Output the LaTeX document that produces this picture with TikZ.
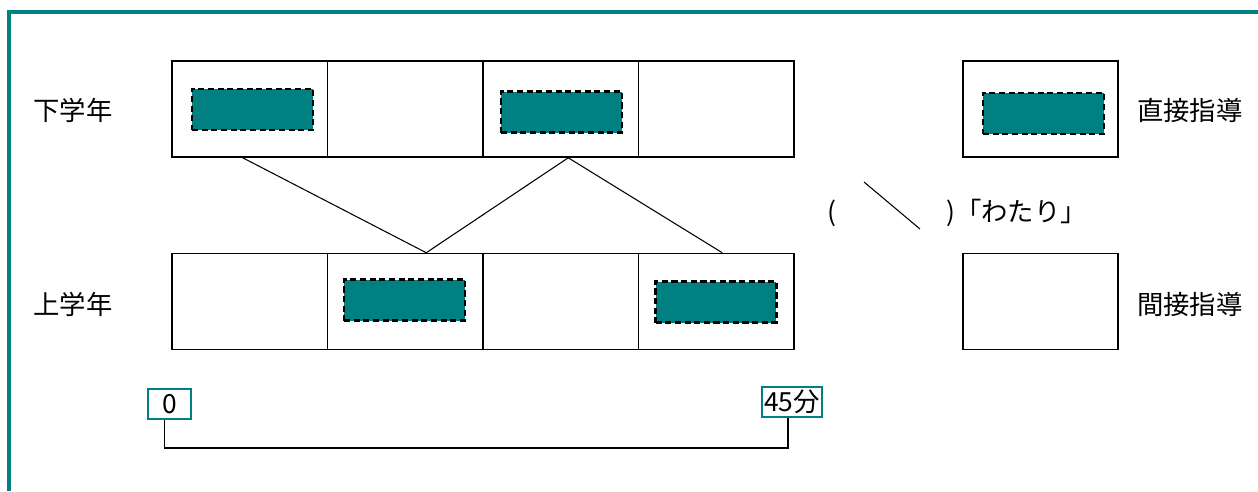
\documentclass[tikz,border=0pt]{standalone}
\usepackage{fontspec}
\setmainfont{Noto Sans CJK JP}
\definecolor{kteal}{RGB}{0,128,128}
\tikzset{
  cell/.style={draw, line width=0.9pt, minimum width=3.11cm, minimum height=1.92cm, inner sep=0pt},
  direct/.style={draw, line width=1.3pt, dash pattern=on 3.5pt off 2pt, fill=kteal, minimum width=2.42cm, minimum height=0.82cm, inner sep=0pt},
  tick/.style={draw=kteal, line width=0.9pt, minimum height=0.6cm, inner sep=0pt},
  lbl/.style={font=\fontsize{15}{18}\selectfont}
}
\begin{document}
\begin{tikzpicture}[x=0.02cm, y=-0.02cm]
        \useasboundingbox (0,0) rectangle (1258,491);
        % outer frame, top and left side only
        \draw[kteal, line width=1.8pt] (9,491) -- (9,12) -- (1258,12);
        % two rows of four time cells
        \foreach \i/\x in {1/249.75, 2/405.25, 3/560.75, 4/716.25} {
            \node[cell] (t\i) at (\x,109) {};
            \node[cell] (b\i) at (\x,301.5) {};
        }
        \node[lbl] (lower) at (73,110) {下学年};
        \node[lbl] (upper) at (73,304) {上学年};
        % directly taught blocks
        \node[direct] (d1) at (252.5,109.5) {};
        \node[direct] (d2) at (561.5,112) {};
        \node[direct] (d3) at (404.5,300) {};
        \node[direct] (d4) at (716,302) {};
        % teacher moving between grades
        \draw[line width=0.6pt] ([xshift=-0.14cm]t1.south) -- ([xshift=0.42cm]b2.north)
            -- ([xshift=0.15cm]t3.south) -- ([xshift=0.12cm]b4.north);
        % legend
        \node[cell] (ka) at (1040.5,109) {};
        \node[direct] (kb) at (1043.5,113.5) {};
        \node[lbl, anchor=west] (kc) at (1131,110) {直接指導};
        \node[cell] (ma) at (1040.5,301.5) {};
        \node[lbl, anchor=west] (mc) at (1131,304) {間接指導};
        \node[lbl] (wl) at (832,213) {(};
        \draw[line width=0.6pt] (864,182) -- (920,229);
        \node[lbl, anchor=west, inner sep=0pt] (wr) at (946,213) {)「わたり」};
        % time scale
        \node[tick, minimum width=0.86cm, lbl] (z0) at (169.5,404) {0};
        \node[tick, minimum width=1.2cm, lbl] (z45) at (792,402) {45分};
        \draw[line width=0.9pt] ([xshift=-0.1cm]z0.south) -- ++(0,28) -| ([xshift=-0.08cm]z45.south);
    \end{tikzpicture}
\end{document}
